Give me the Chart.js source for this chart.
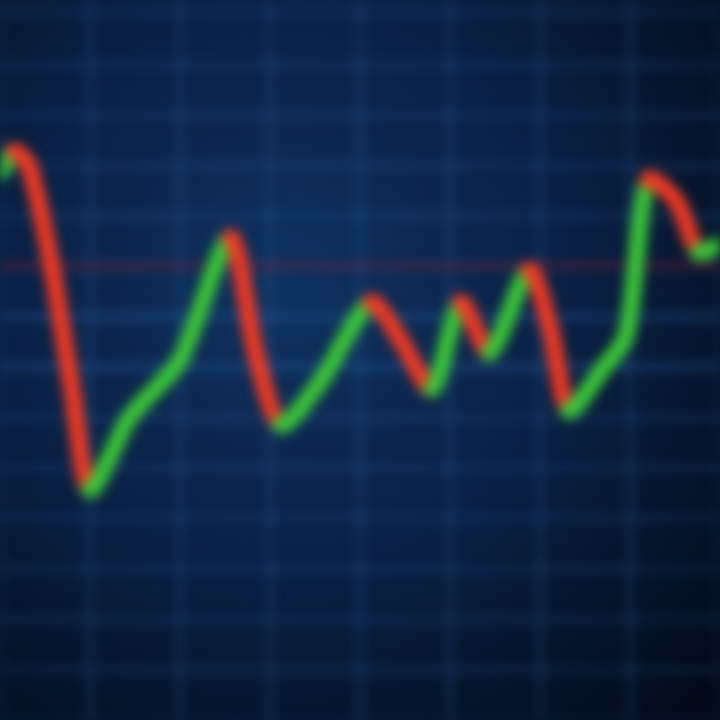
<!DOCTYPE html>
<html>
<head>
<meta charset="utf-8">
<script src="https://cdn.jsdelivr.net/npm/chart.js@4"></script>
<style>
  html, body { margin: 0; padding: 0; background: #040c1c; }
  #wrap {
    width: 720px; height: 720px;
    background: radial-gradient(ellipse at 40% 40%, #0f3260 0%, #0a2145 45%, #051227 78%, #020814 100%);
  }
  canvas { filter: blur(6px); }
</style>
</head>
<body>
<div id="wrap"><canvas id="myChart" width="720" height="720"></canvas></div>
<script>
// time positions (0-100) and price values (0-100)
const times = [0, 2, 4, 7, 10, 12.5, 18, 25, 32, 35.5, 39, 44.5, 51.5, 55.5, 60, 64, 68, 73.5, 76.5, 79, 83.5, 87, 90, 94, 97, 100];
const prices = [76, 79, 77, 64, 46, 32, 42, 50, 67, 51, 41, 47, 58, 53, 46, 58, 51, 62.5, 54, 43, 48.5, 53.5, 75, 72, 65, 66];

const points = times.map((t, i) => ({ x: t, y: prices[i] }));

document.addEventListener("DOMContentLoaded", function () {
  let ctx = document.getElementById("myChart").getContext("2d");

  let myChart = new Chart(ctx, {
    type: "scatter",
    data: {
      datasets: [
        {
          label: "Price",
          data: points,
          showLine: true,
          borderWidth: 17,
          borderCapStyle: "round",
          borderJoinStyle: "round",
          pointRadius: 0,
          tension: 0.25,
          segment: {
            borderColor: (c) =>
              c.p1.parsed.y >= c.p0.parsed.y ? "#3cc63a" : "#ef3a25",
          },
        },
      ],
    },
    options: {
      responsive: false,
      animation: false,
      layout: { padding: 0 },
      plugins: { legend: { display: false }, tooltip: { enabled: false } },
      scales: {
        x: {
          type: "linear",
          min: 0,
          max: 100,
          display: true,
          ticks: { display: false, stepSize: 12.5 },
          grid: { color: "rgba(50,105,175,0.35)", lineWidth: 4, drawTicks: false },
          border: { display: false },
        },
        y: {
          min: 0,
          max: 100,
          display: true,
          ticks: { display: false, stepSize: 7 },
          grid: {
            color: (c) => (c.tick.value === 63 ? "rgba(140,35,55,0.7)" : c.tick.value === 56 || c.tick.value === 49 ? "rgba(45,110,185,0.55)" : "rgba(50,105,175,0.3)"),
            lineWidth: 4,
            drawTicks: false,
          },
          border: { display: false },
        },
      },
    },
  });
});
</script>
</body>
</html>
